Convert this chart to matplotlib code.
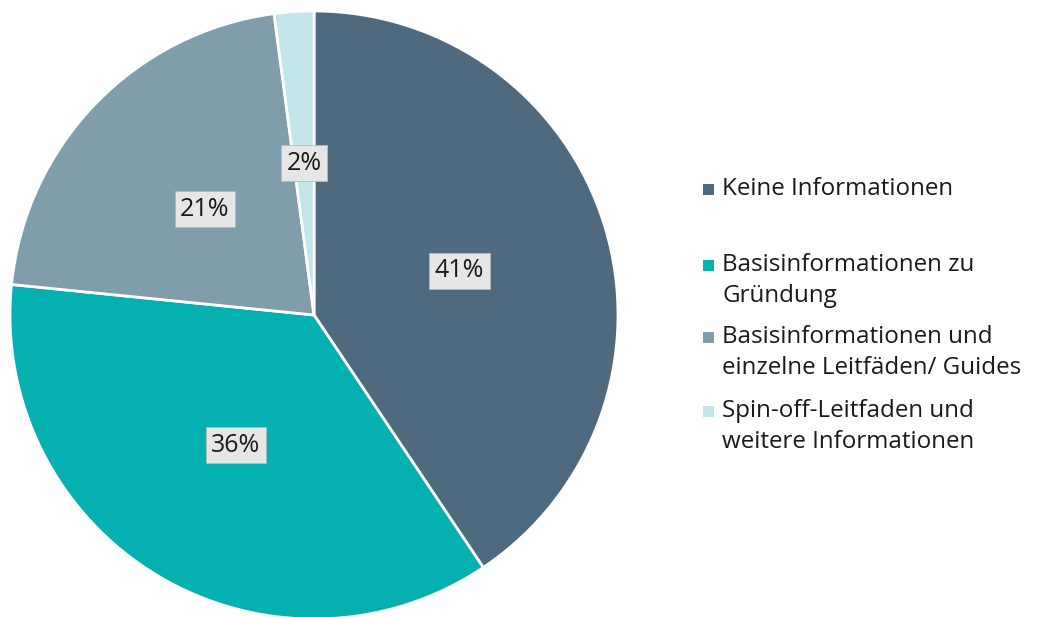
import matplotlib.pyplot as plt
from matplotlib.patches import Rectangle

plt.rcParams['font.family'] = ['Open Sans', 'DejaVu Sans']

labels = ['Keine Informationen',
          'Basisinformationen zu\nGründung',
          'Basisinformationen und\neinzelne Leitfäden/ Guides',
          'Spin-off-Leitfaden und\nweitere Informationen']
shares = [40.6, 36.0, 21.3, 2.1]
colors = ['#4f697f', '#05b0b1', '#7f9daa', '#c1e5e9']

W, H = 1043, 617
fig = plt.figure(figsize=(W / 100, H / 100), dpi=100)

# pie centre ~(314, 315) px, radius ~304 px
cx, cy, r = 314, 315, 304
ax = fig.add_axes([(cx - r) / W, (H - cy - r) / H, 2 * r / W, 2 * r / H])
wedges, texts, autotexts = ax.pie(
    shares, colors=colors, startangle=90, counterclock=False,
    autopct=lambda p: f'{p:.0f}%', pctdistance=0.5, radius=1,
    wedgeprops=dict(edgecolor='white', linewidth=2))
for t in autotexts:
    t.set_fontsize(18)
    t.set_color('#1a1a1a')
    t.set_bbox(dict(facecolor='#e6e6e6', edgecolor='#b8b8b8', linewidth=0.6,
                    boxstyle='square,pad=0.22'))
ax.set_xlim(-1, 1)
ax.set_ylim(-1, 1)

# legend, drawn by hand to match spacing
first_line_y = [189, 265, 337, 411]
for lab, col, y in zip(labels, colors, first_line_y):
    fig.patches.append(Rectangle((703 / W, (H - y - 5.5) / H), 11 / W, 11 / H,
                                 transform=fig.transFigure, facecolor=col,
                                 edgecolor='none'))
    lines = lab.split('\n')
    for i, line in enumerate(lines):
        fig.text(722 / W, (H - y - 31 * i) / H, line, fontsize=17.4,
                 color='#1a1a1a', va='center', ha='left')

fig.savefig('out.png', dpi=100, facecolor='white')
